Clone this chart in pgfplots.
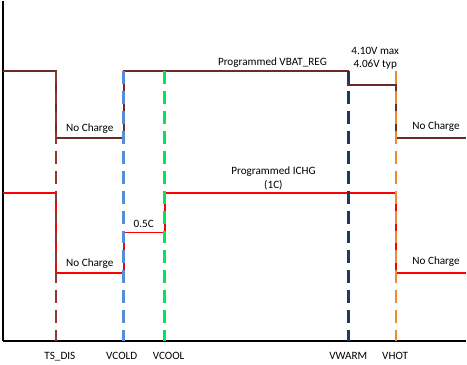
\documentclass[border=0pt]{standalone}
\usepackage{fontspec}
\setmainfont{Carlito}
\usepackage{pgfplots}
\pgfplotsset{compat=1.18}
\definecolor{vbat}{HTML}{6B2B2B}
\definecolor{tsdis}{HTML}{943634}
\definecolor{vcold}{HTML}{558ED5}
\definecolor{vcool}{HTML}{00E65C}
\definecolor{vwarm}{HTML}{1F3864}
\definecolor{vhot}{HTML}{F08A2E}
\definecolor{ichg}{HTML}{FF0000}
\begin{document}
\fontsize{11.2}{13}\selectfont
\begin{tikzpicture}
\begin{axis}[
  width=464pt, height=341pt, scale only axis,
  xmin=0, xmax=464, ymin=0, ymax=341,
  axis x line=bottom, axis y line=left,
  axis line style={-, line width=2pt, black},
  ytick=\empty,
  xtick={57,119,166,346,393},
  xticklabels={TS\_DIS,VCOLD,VCOOL,VWARM,VHOT},
  major tick length=0pt,
  xticklabel style={yshift=-7pt, font=\fontsize{11.2}{13}\selectfont},
  clip=false,
]
% solid curves
\addplot[vbat, line width=2pt] coordinates {(0,271)(53,271)(53,204)(121,204)(121,271)(346,271)(346,257)(394,257)(394,204)(464,204)};
\addplot[ichg, line width=2pt] coordinates {(0,149)(53,149)(53,68)(121,68)(121,109)(162,109)(162,149)(394,149)(394,68)(464,68)};
% dashed thresholds
\addplot[tsdis, line width=2.6pt, dash pattern=on 13pt off 7pt] coordinates {(53,271)(53,0)};
\addplot[vcold, line width=2.6pt, dash pattern=on 13pt off 7pt] coordinates {(121,271)(121,0)};
\addplot[vcool, line width=2.6pt, dash pattern=on 13pt off 7pt] coordinates {(162,271)(162,0)};
\addplot[vwarm, line width=2.6pt, dash pattern=on 13pt off 7pt] coordinates {(346,271)(346,0)};
\addplot[vhot, line width=2.6pt, dash pattern=on 13pt off 7pt] coordinates {(394,271)(394,0)};
% labels
\node at (axis cs:87,213) {No Charge};
\node at (axis cs:270,279) {Programmed VBAT\_REG};
\node at (axis cs:373,291) {4.10V max};
\node at (axis cs:373,277) {4.06V typ};
\node at (axis cs:434,215) {No Charge};
\node at (axis cs:271,170) {Programmed ICHG};
\node at (axis cs:271,156) {(1C)};
\node at (axis cs:141,118) {0.5C};
\node at (axis cs:87,78) {No Charge};
\node at (axis cs:434,80) {No Charge};
\path (axis cs:-3,-23) (axis cs:464,341);
\end{axis}
\end{tikzpicture}
\end{document}
